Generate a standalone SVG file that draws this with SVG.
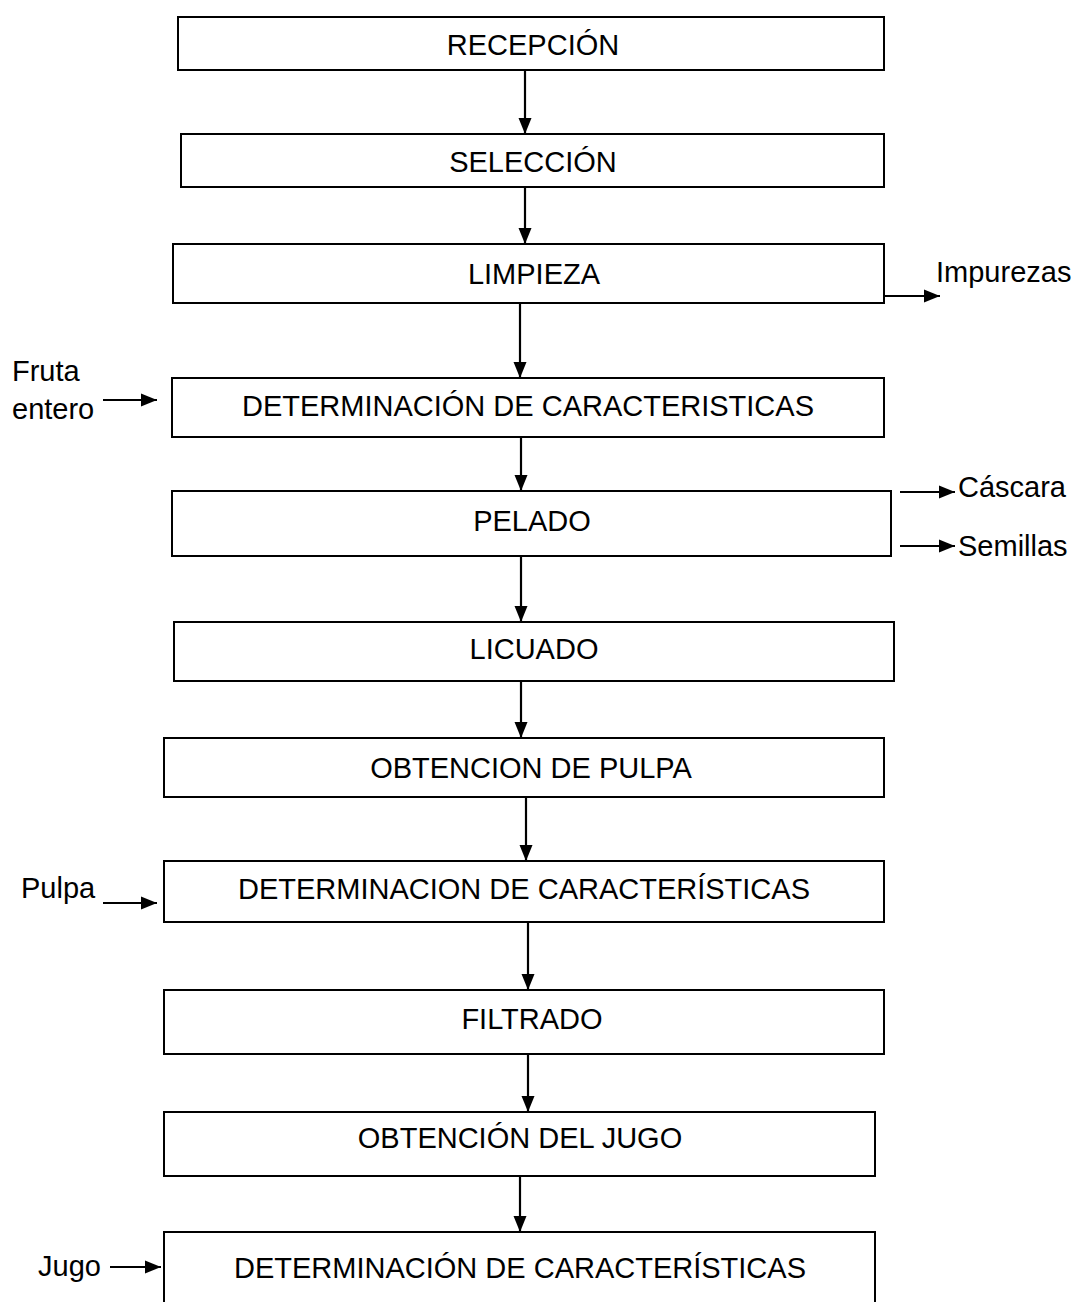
<svg xmlns="http://www.w3.org/2000/svg" width="1076" height="1302" viewBox="0 0 1076 1302">
<style>
.box{fill:#fff;stroke:#000;stroke-width:2}
.t{font-family:"Liberation Sans",Arial,sans-serif;font-size:29px;fill:#000}
.c{text-anchor:middle}
.ln{stroke:#000;stroke-width:2.2;fill:none;marker-end:url(#ah)}
</style>
<defs>
<marker id="ah" markerUnits="userSpaceOnUse" markerWidth="17" markerHeight="14" refX="16" refY="7" orient="auto">
<path d="M0,0.5 L16,7 L0,13.5 Z" fill="#000"/>
</marker>
</defs>
<rect width="1076" height="1302" fill="#fff"/>
<g id="connectors">
<line class="ln" x1="525" y1="70" x2="525" y2="134"/>
<line class="ln" x1="525" y1="187" x2="525" y2="244"/>
<line class="ln" x1="520" y1="303" x2="520" y2="378"/>
<line class="ln" x1="884" y1="296" x2="940" y2="296"/>
<line class="ln" x1="103" y1="400" x2="157" y2="400"/>
<line class="ln" x1="521" y1="437" x2="521" y2="491"/>
<line class="ln" x1="900" y1="492" x2="955" y2="492"/>
<line class="ln" x1="900" y1="546" x2="955" y2="546"/>
<line class="ln" x1="521" y1="556" x2="521" y2="622"/>
<line class="ln" x1="521" y1="681" x2="521" y2="738"/>
<line class="ln" x1="526" y1="797" x2="526" y2="861"/>
<line class="ln" x1="103" y1="903" x2="157" y2="903"/>
<line class="ln" x1="528" y1="922" x2="528" y2="990"/>
<line class="ln" x1="528" y1="1054" x2="528" y2="1112"/>
<line class="ln" x1="520" y1="1176" x2="520" y2="1232"/>
<line class="ln" x1="110" y1="1267" x2="161" y2="1267"/>
</g>
<g id="n1"><rect class="box" x="178" y="17" width="706" height="53"/><text class="t c" x="533" y="55">RECEPCIÓN</text></g>
<g id="n2"><rect class="box" x="181" y="134" width="703" height="53"/><text class="t c" x="533" y="172">SELECCIÓN</text></g>
<g id="n3"><rect class="box" x="173" y="244" width="711" height="59"/><text class="t c" x="534" y="284">LIMPIEZA</text></g>
<g id="n4"><rect class="box" x="172" y="378" width="712" height="59"/><text class="t c" x="528" y="416">DETERMINACIÓN DE CARACTERISTICAS</text></g>
<g id="n5"><rect class="box" x="172" y="491" width="719" height="65"/><text class="t c" x="532" y="531">PELADO</text></g>
<g id="n6"><rect class="box" x="174" y="622" width="720" height="59"/><text class="t c" x="534" y="659">LICUADO</text></g>
<g id="n7"><rect class="box" x="164" y="738" width="720" height="59"/><text class="t c" x="531" y="778">OBTENCION DE PULPA</text></g>
<g id="n8"><rect class="box" x="164" y="861" width="720" height="61"/><text class="t c" x="524" y="899">DETERMINACION DE CARACTERÍSTICAS</text></g>
<g id="n9"><rect class="box" x="164" y="990" width="720" height="64"/><text class="t c" x="532" y="1029">FILTRADO</text></g>
<g id="n10"><rect class="box" x="164" y="1112" width="711" height="64"/><text class="t c" x="520" y="1148">OBTENCIÓN DEL JUGO</text></g>
<g id="n11"><rect class="box" x="164" y="1232" width="711" height="90"/><text class="t c" x="520" y="1278">DETERMINACIÓN DE CARACTERÍSTICAS</text></g>
<g id="labels">
<text class="t" x="936" y="282">Impurezas</text>
<text class="t" x="12" y="381">Fruta</text>
<text class="t" x="12" y="419">entero</text>
<text class="t" x="958" y="497">Cáscara</text>
<text class="t" x="958" y="556">Semillas</text>
<text class="t" x="21" y="898">Pulpa</text>
<text class="t" x="38" y="1276">Jugo</text>
</g>
</svg>
